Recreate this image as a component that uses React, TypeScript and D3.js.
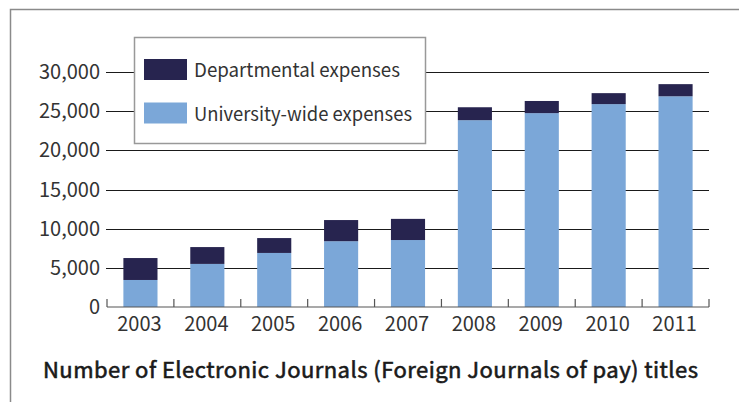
import React, { useRef, useEffect } from 'react';
import * as d3 from 'd3';

const years = ['2003', '2004', '2005', '2006', '2007', '2008', '2009', '2010', '2011'];
const universityWide = [3450, 5500, 6900, 8400, 8550, 23850, 24750, 25900, 26900];
const departmental = [2800, 2150, 1900, 2700, 2700, 1650, 1550, 1400, 1550];
const yTicks = [0, 5000, 10000, 15000, 20000, 25000, 30000];
const seriesNames = ['Departmental expenses', 'University-wide expenses'];
const title = 'Number of Electronic Journals (Foreign Journals of pay) titles';

const DARK = '#27244f';
const LIGHT = '#7ba7d8';
const FONT = '"Noto Sans CJK JP", "Noto Sans", sans-serif';

const App = () => {
    const ref = useRef<SVGSVGElement>(null);

    useEffect(() => {
        const svg = d3.select(ref.current)
            .attr('width', 739)
            .attr('height', 402);

        svg.selectAll('*').remove();

        const left = 107;
        const right = 709;
        const top = 72;
        const bottom = 307;

        const x = d3.scaleBand<string>()
            .domain(years)
            .range([left, right])
            .padding(0);

        const y = d3.scaleLinear()
            .domain([0, 30000])
            .range([bottom, top]);

        // outer frame (top + left edge only)
        svg.append('path')
            .attr('d', `M10.5,402 L10.5,9.5 L739,9.5`)
            .attr('fill', 'none')
            .attr('stroke', '#8a8a8a')
            .attr('stroke-width', 1.5);

        // gridlines
        svg.append('g')
            .selectAll('line')
            .data(yTicks.filter(d => d > 0))
            .enter().append('line')
            .attr('x1', left - 1)
            .attr('x2', right)
            .attr('y1', d => Math.round(y(d)) + 0.5)
            .attr('y2', d => Math.round(y(d)) + 0.5)
            .attr('stroke', '#1a1a1a')
            .attr('stroke-width', 1.2);

        // y labels
        svg.append('g')
            .selectAll('text')
            .data(yTicks)
            .enter().append('text')
            .attr('x', 100)
            .attr('y', d => y(d))
            .attr('dy', '0.35em')
            .attr('text-anchor', 'end')
            .attr('font-family', FONT)
            .attr('font-size', 20)
            .attr('fill', '#333')
            .text(d => d3.format(',')(d));

        // bars
        const barW = x.bandwidth() * 0.51;
        const g = svg.append('g');
        years.forEach((yr, i) => {
            const bx = (x(yr) as number) + (x.bandwidth() - barW) / 2;
            const u = universityWide[i];
            const t = u + departmental[i];
            g.append('rect')
                .attr('x', bx)
                .attr('y', y(u))
                .attr('width', barW)
                .attr('height', y(0) - y(u))
                .attr('fill', LIGHT);
            g.append('rect')
                .attr('x', bx)
                .attr('y', y(t))
                .attr('width', barW)
                .attr('height', y(u) - y(t))
                .attr('fill', DARK);
        });

        // x axis
        const axis = svg.append('g').attr('stroke', '#555').attr('stroke-width', 1.2);
        axis.append('line')
            .attr('x1', left).attr('x2', right)
            .attr('y1', bottom).attr('y2', bottom);
        const bounds = years.map(yr => x(yr) as number).concat([right]);
        axis.selectAll('line.tick')
            .data(bounds)
            .enter().append('line')
            .attr('class', 'tick')
            .attr('x1', d => d).attr('x2', d => d)
            .attr('y1', bottom).attr('y2', bottom - 8);

        svg.append('g')
            .selectAll('text')
            .data(years)
            .enter().append('text')
            .attr('x', d => (x(d) as number) + x.bandwidth() / 2 - 1)
            .attr('y', 331)
            .attr('text-anchor', 'middle')
            .attr('font-family', FONT)
            .attr('font-size', 20)
            .attr('fill', '#333')
            .text(d => d);

        // legend
        const legendWidths = [206, 218];
        const lg = svg.append('g');
        lg.append('rect')
            .attr('x', 134.5).attr('y', 37.5)
            .attr('width', 291).attr('height', 106)
            .attr('fill', '#fff')
            .attr('stroke', '#999')
            .attr('stroke-width', 1.5);
        [DARK, LIGHT].forEach((c, i) => {
            lg.append('rect')
                .attr('x', 144).attr('y', 59 + i * 43.5)
                .attr('width', 43).attr('height', 21)
                .attr('fill', c);
            lg.append('text')
                .attr('x', 194).attr('y', 77 + i * 43.5)
                .attr('font-family', FONT)
                .attr('font-size', 19)
                .attr('textLength', legendWidths[i])
                .attr('lengthAdjust', 'spacingAndGlyphs')
                .attr('fill', '#333')
                .text(seriesNames[i]);
        });

        // title
        svg.append('text')
            .attr('x', 43)
            .attr('y', 378)
            .attr('font-family', FONT)
            .attr('font-size', 22)
            .attr('font-weight', 400)
            .attr('textLength', 655)
            .attr('lengthAdjust', 'spacing')
            .attr('fill', '#1a1a1a')
            .attr('stroke', '#1a1a1a')
            .attr('stroke-width', 0.6)
            .text(title);
    }, []);

    return (
        <svg ref={ref} style={{ position: 'absolute', left: 0, top: 0 }}></svg>
    );
};

export default App;
